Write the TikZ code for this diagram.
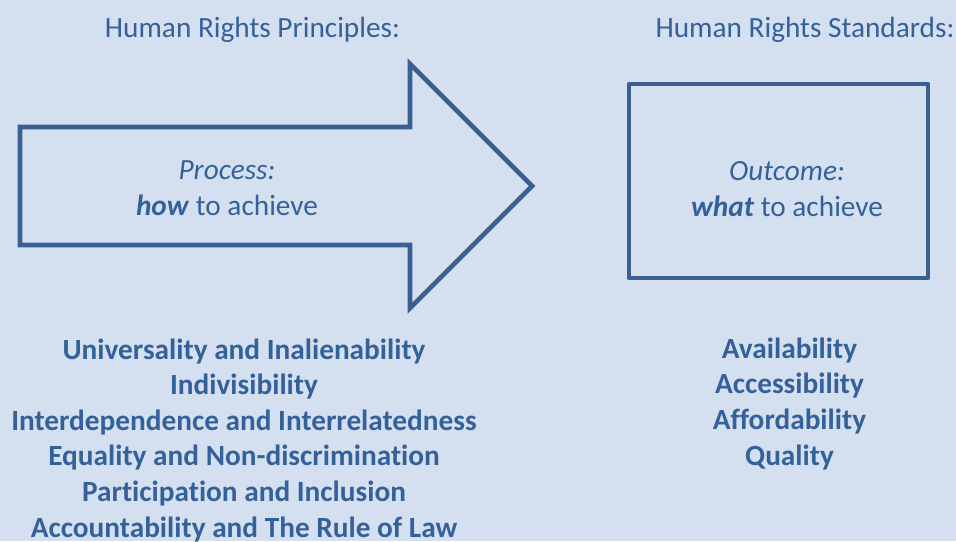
\documentclass[tikz,border=0pt]{standalone}
\usepackage{fontspec}
\setmainfont{Carlito}[Ligatures=CommonOff]
\definecolor{bgblue}{HTML}{D4E0EF}
\definecolor{lineblue}{HTML}{3A6092}
\definecolor{textblue}{HTML}{35619A}
\begin{document}
\begin{tikzpicture}[x=1pt,y=-1pt,
  outline/.style={draw=lineblue,line width=4.6pt},
  caption/.style={text=textblue,font=\fontsize{29.3}{35.6}\selectfont,align=center,inner sep=0pt,anchor=base},
  listtext/.style={caption,font=\fontsize{29.3}{35.6}\selectfont\bfseries}]
% canvas
\fill[bgblue] (0,0) rectangle (956,541);
\useasboundingbox (0,0) rectangle (956,541);

% headings
\node[caption] (principles) at (252.5,37) {Human Rights Principles:};
\node[caption] (standards) at (805,37) {Human Rights Standards:};

% process arrow
\draw[outline,line join=miter] (20,127) -- (410,127) -- (410,64) -- (532,186)
  -- (410,308) -- (410,245) -- (20,245) -- cycle;
% multi-line nodes sit on the baseline of their last line
\node[caption] (process) at (227,215) {\textit{Process:}\\\textbf{\textit{how}} to achieve};

% outcome box
\draw[outline,line join=round] (629,84) rectangle (928,278);
\node[caption] (outcome) at (787,216) {\textit{Outcome:}\\\textbf{\textit{what}} to achieve};

% principle and standard lists
\node[listtext] (principlelist) at (244,537) {Universality and Inalienability\\
  Indivisibility\\
  Interdependence and Interrelatedness\\
  Equality and Non-discrimination\\
  Participation and Inclusion\\
  Accountability and The Rule of Law};
\node[listtext] (standardlist) at (789.5,465) {Availability\\
  Accessibility\\
  Affordability\\
  Quality};
\end{tikzpicture}
\end{document}
